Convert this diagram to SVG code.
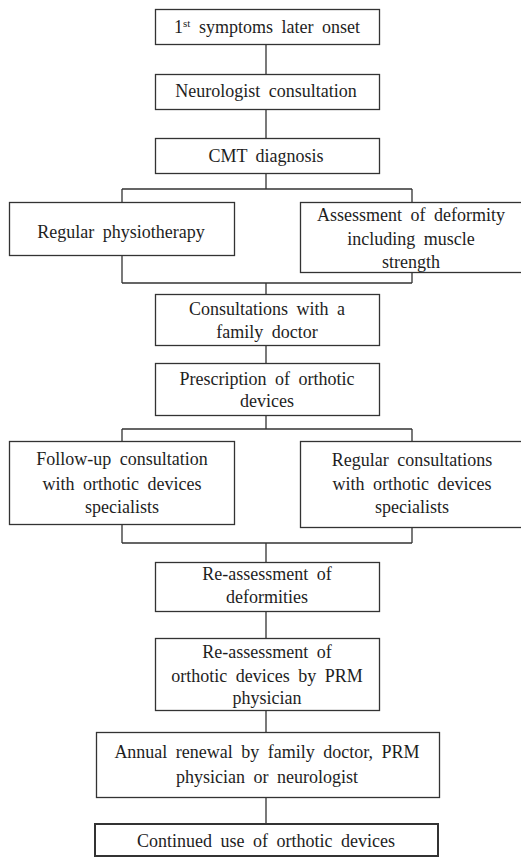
<svg xmlns="http://www.w3.org/2000/svg" width="521" height="859" viewBox="0 0 521 859">
<style>
.b{fill:#fff;stroke:#333;stroke-width:1.3}
.t{font-family:"Liberation Serif","Times New Roman",serif;font-size:18px;fill:#1e1e1e;text-anchor:middle;word-spacing:4px}
.c{fill:none;stroke:#333;stroke-width:1.3}
</style>
<rect width="521" height="859" fill="#fff"/>
<g id="connectors">
<path class="c" d="M266 44V74M266 109V138M266 173V189M122 189H412M122 189V202M412 189V202"/>
<path class="c" d="M122 255V283M412 272V283M122 283H412M266 283V294M266 345V363M266 415V429M122 429H412M122 429V441M412 429V441"/>
<path class="c" d="M122 524V543M412 527V543M122 543H412M266 543V562M266 611V638M266 710V732M266 797V823"/>
</g>
<g id="n1"><rect class="b" x="155.5" y="9.5" width="224" height="35"/><text class="t" x="267" y="33">1<tspan font-size="11" dy="-6">st</tspan><tspan dy="6"> symptoms later onset</tspan></text></g>
<g id="n2"><rect class="b" x="155.5" y="74.5" width="224" height="35"/><text class="t" x="266" y="97">Neurologist consultation</text></g>
<g id="n3"><rect class="b" x="155.5" y="138.5" width="224" height="35"/><text class="t" x="266" y="162">CMT diagnosis</text></g>
<g id="n4"><rect class="b" x="9.5" y="202.5" width="225" height="53"/><text class="t" x="121" y="238">Regular physiotherapy</text></g>
<g id="n5"><rect class="b" x="300.5" y="202.5" width="230" height="70"/><text class="t" x="411" y="221">Assessment of deformity</text><text class="t" x="411" y="245">including muscle</text><text class="t" x="411" y="268">strength</text></g>
<g id="n6"><rect class="b" x="155.5" y="294.5" width="224" height="51"/><text class="t" x="267" y="315">Consultations with a</text><text class="t" x="267" y="338">family doctor</text></g>
<g id="n7"><rect class="b" x="155.5" y="363.5" width="224" height="52"/><text class="t" x="267" y="385">Prescription of orthotic</text><text class="t" x="267" y="407">devices</text></g>
<g id="n8"><rect class="b" x="9.5" y="441.5" width="225" height="83"/><text class="t" x="122" y="465">Follow-up consultation</text><text class="t" x="122" y="490">with orthotic devices</text><text class="t" x="122" y="513">specialists</text></g>
<g id="n9"><rect class="b" x="300.5" y="441.5" width="230" height="86"/><text class="t" x="412" y="466">Regular consultations</text><text class="t" x="412" y="490">with orthotic devices</text><text class="t" x="412" y="513">specialists</text></g>
<g id="n10"><rect class="b" x="155.5" y="562.5" width="224" height="49"/><text class="t" x="267" y="580">Re-assessment of</text><text class="t" x="267" y="603">deformities</text></g>
<g id="n11"><rect class="b" x="155.5" y="638.5" width="224" height="72"/><text class="t" x="267" y="658">Re-assessment of</text><text class="t" x="267" y="682">orthotic devices by PRM</text><text class="t" x="267" y="704">physician</text></g>
<g id="n12"><rect class="b" x="96.5" y="732.5" width="343" height="65"/><text class="t" x="267" y="758">Annual renewal by family doctor, PRM</text><text class="t" x="267" y="783">physician or neurologist</text></g>
<g id="n13"><rect class="b" x="95" y="824" width="343" height="32" style="stroke-width:2"/><text class="t" x="266" y="847">Continued use of orthotic devices</text></g>
</svg>
